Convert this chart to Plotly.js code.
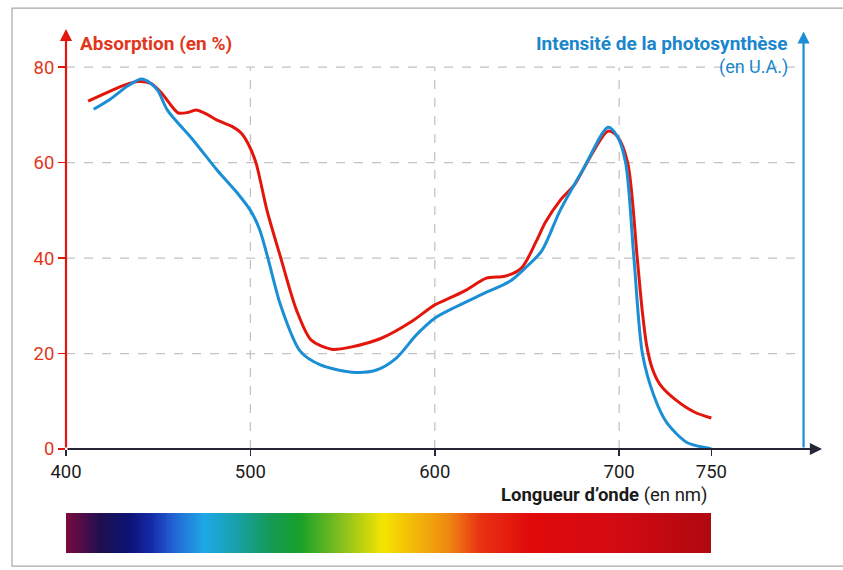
<!DOCTYPE html>
<html>
<head>
<meta charset="utf-8">
<script src="https://cdn.plot.ly/plotly-3.0.1.min.js"></script>
<style>html,body{margin:0;padding:0;background:#fff;}#chart{width:843px;height:570px;}</style>
</head>
<body>
<div id="chart"></div>
<script>
// ---- Data ----
const absNm = [412, 424, 432, 439, 446, 452, 458, 461, 466, 471, 477, 482, 490, 495, 499, 503, 509, 516.5, 525, 533, 544, 555, 571, 587, 600, 609, 617, 628, 638, 647, 655, 660, 668, 676, 684, 694, 699, 704.6, 709.8, 712.5, 715, 718, 722, 730, 741, 750];
const absVal = [72.9, 75, 76.3, 77, 76.6, 74.5, 71.5, 70.4, 70.5, 71, 70, 68.9, 67.6, 66.2, 63.8, 60, 50, 40, 29.1, 22.8, 20.9, 21.4, 23.2, 26.6, 30.2, 31.8, 33.3, 35.8, 36.2, 37.9, 43.5, 47.5, 52.1, 55.5, 61, 66.6, 65.5, 60, 40, 29, 21.5, 16.8, 13.6, 10.5, 7.7, 6.5];

const photoNm = [415, 424, 434, 441, 446, 450, 455, 469, 482, 493, 500, 505, 509.5, 516.5, 527, 538, 555, 568, 579, 590, 600, 611, 625, 641, 649, 658, 668, 681, 694, 699, 703.5, 708, 712.6, 719, 726, 737, 748, 750];
const photoVal = [71.2, 73.3, 76.2, 77.5, 76.6, 75, 71, 64.7, 58.4, 53.6, 50, 46, 40, 30, 20.5, 17.6, 16.1, 16.5, 19, 23.9, 27.4, 29.7, 32.3, 35.2, 37.9, 41.5, 50, 59, 67.4, 65.5, 60, 40, 20, 11, 5.4, 1.3, 0.2, 0];

const xTicks = [400, 500, 600, 700, 750];
const yTicks = [0, 20, 40, 60, 80];
const xGrid = [500, 600, 700];
const yGrid = [20, 40, 60, 80];

// visible spectrum colour stops (nm -> colour)
const specNm = [400, 419, 434, 446, 458, 475, 493, 510, 527, 551, 572, 607, 625, 652, 697, 750];
const specCol = ['#7a0a40', '#1e0f50', '#0c1272', '#1428a6', '#2262d2', '#1fa8e8', '#17a0a8', '#159a58', '#17a02a', '#8cc21e', '#f4e400', '#f08a12', '#e83212', '#e00a0a', '#d40a12', '#b0080f'];

// ---- Styles ----
const RED = '#e3160b', RED_TXT = '#e2361c', BLUE = '#1b8fd6', BLUE_TXT = '#1a86cc', DARK = '#262636';
const FONT = 'Roboto, "Liberation Sans", sans-serif';

// spectrum heatmap built from stops
const specMin = specNm[0], specMax = specNm[specNm.length - 1];
const specEdges = [], specZ = [];
for (let w = specMin; w <= specMax; w += 1) specEdges.push(w);
for (let i = 0; i < specEdges.length - 1; i++) specZ.push(specEdges[i] + 0.5);
const colorscale = specNm.map((w, i) => [(w - specMin) / (specMax - specMin), specCol[i]]);

const traces = [
  {x: absNm, y: absVal, type: 'scatter', mode: 'lines', line: {color: RED, width: 3, shape: 'spline', smoothing: 0.8}, hoverinfo: 'skip'},
  {x: photoNm, y: photoVal, type: 'scatter', mode: 'lines', line: {color: BLUE, width: 3, shape: 'spline', smoothing: 0.8}, hoverinfo: 'skip'},
  {x: specEdges, y: [0, 1], z: [specZ], type: 'heatmap', xaxis: 'x', yaxis: 'y2', colorscale: colorscale, zmin: specMin, zmax: specMax, showscale: false, hoverinfo: 'skip'}
];

const shapes = [];
yGrid.forEach(v => shapes.push({type: 'line', xref: 'x', yref: 'y', x0: 400, x1: 800, y0: v, y1: v, layer: 'below', line: {color: '#c4c4c4', width: 1.3, dash: 'dash'}}));
xGrid.forEach(v => shapes.push({type: 'line', xref: 'x', yref: 'y', x0: v, x1: v, y0: 0, y1: 80, layer: 'below', line: {color: '#c4c4c4', width: 1.3, dash: 'dash'}}));
// page frame
shapes.push({type: 'rect', xref: 'paper', yref: 'paper', x0: -0.0714, x1: 1.1, y0: -0.025, y1: 1.04, line: {color: '#a8a8a8', width: 1.2}, layer: 'below'});

const arrow = (x, y, ax, ay, color) => ({x: x, y: y, ax: ax, ay: ay, xref: 'x', yref: 'y', axref: 'x', ayref: 'y', text: '', showarrow: true, arrowhead: 2, arrowsize: 1.1, arrowwidth: 2.2, arrowcolor: color});

const annotations = [
  arrow(810, 0, 400, 0, DARK),
  arrow(400, 88, 400, 0, RED),
  arrow(800, 87.5, 800, 0, BLUE),
  {xref: 'paper', yref: 'paper', x: 0.016, y: 1.0, xanchor: 'left', yanchor: 'middle', yshift: -14, showarrow: false, text: '<b>Absorption (en %)</b>', font: {family: FONT, size: 19, color: RED_TXT}},
  {xref: 'paper', yref: 'paper', x: 0.958, y: 1.0, xanchor: 'right', yanchor: 'middle', yshift: -14, showarrow: false, text: '<b>Intensité de la photosynthèse</b>', font: {family: FONT, size: 19, color: BLUE_TXT}},
  {xref: 'paper', yref: 'paper', x: 0.958, y: 1.0, xanchor: 'right', yanchor: 'middle', yshift: -38, showarrow: false, text: '(en U.A.)', font: {family: FONT, size: 18, color: BLUE_TXT}},
  {xref: 'paper', yref: 'paper', x: 0.852, y: 0.1985, xanchor: 'right', yanchor: 'middle', yshift: -46, showarrow: false, text: '<b>Longueur d’onde</b> (en nm)', font: {family: FONT, size: 18.5, color: '#1a1a1a'}}
];

const layout = {
  width: 843, height: 570,
  margin: {l: 66, r: 21, t: 29, b: 17},
  paper_bgcolor: '#ffffff', plot_bgcolor: 'rgba(0,0,0,0)',
  showlegend: false,
  xaxis: {range: [400, 810], tickvals: xTicks, ticktext: xTicks.map(String), ticks: 'outside', ticklen: 6, tickwidth: 1.5, tickcolor: DARK, showgrid: false, zeroline: false, showline: false, tickfont: {family: FONT, size: 18.5, color: '#1a1a1a'}, anchor: 'y', fixedrange: true},
  yaxis: {domain: [0.1985, 1], range: [0, 88], tickvals: yTicks, ticktext: yTicks.map(String), ticks: 'outside', ticklen: 7, tickwidth: 1.5, tickcolor: RED, showgrid: false, zeroline: false, showline: false, tickfont: {family: FONT, size: 18.5, color: RED_TXT}, fixedrange: true},
  yaxis2: {domain: [0, 0.0763], range: [0, 1], visible: false, fixedrange: true},
  shapes: shapes,
  annotations: annotations
};

Plotly.newPlot('chart', traces, layout, {displayModeBar: false, staticPlot: true});
</script>
</body>
</html>
